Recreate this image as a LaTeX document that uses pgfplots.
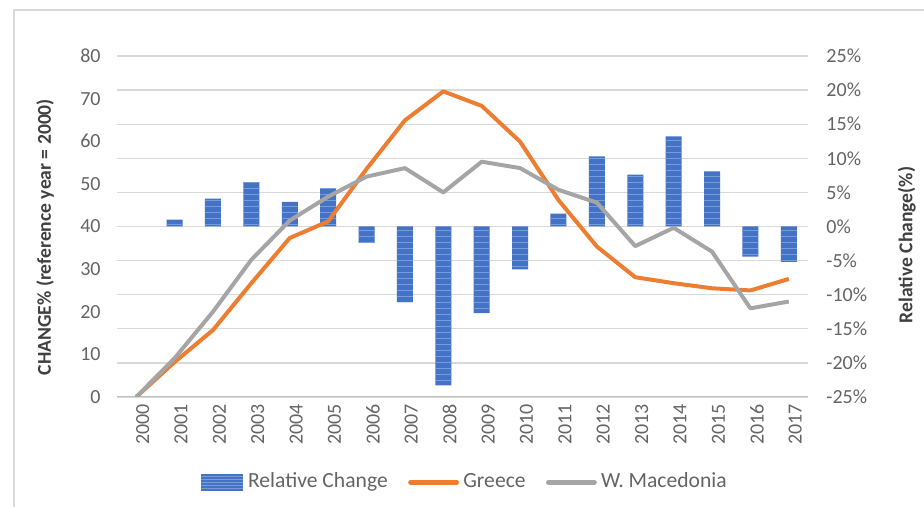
\documentclass[border=0pt]{standalone}
\usepackage{fontspec}
\setmainfont{Carlito}
\usepackage{pgfplots}
\pgfplotsset{compat=1.18}
\usetikzlibrary{patterns}
\definecolor{barblue}{RGB}{68,114,196}
\definecolor{barlight}{RGB}{120,155,220}
\definecolor{greece}{RGB}{237,125,49}
\definecolor{wmac}{RGB}{165,165,165}
\definecolor{gridgray}{RGB}{217,217,217}
\definecolor{basegray}{RGB}{191,191,191}
\definecolor{txtgray}{RGB}{100,100,100}
\definecolor{lblgray}{RGB}{64,64,64}

\pgfplotsset{
  common/.style={
    at={(58.5pt,55pt)}, anchor=south west,
    scale only axis, width=345.5pt, height=170.5pt,
    xmin=-0.5, xmax=17.5,
    axis line style={draw=none},
    major tick length=0pt,
    tick label style={font=\fontsize{10}{12}\selectfont, text=txtgray},
    label style={font=\bfseries\fontsize{9.8}{12}\selectfont, text=lblgray},
  }
}

\begin{document}
\begin{tikzpicture}[x=1pt,y=1pt]
\useasboundingbox (0,0) rectangle (462,253.5);
\draw[gridgray, line width=0.7pt] (7,0) -- (7,248.5) -- (462,248.5);

% bars, right axis
\begin{axis}[
  common,
  ymin=-25, ymax=25, ytick={-25,-20,...,25},
  yticklabel pos=right,
  yticklabel={\pgfmathparse{int(\tick)}\pgfmathresult\%},
  yticklabel style={anchor=west, xshift=5.7pt},
  ymajorgrids, grid style={draw=gridgray, line width=0.7pt},
  xtick=\empty,
  ylabel={Relative Change(\%)},
  ylabel style={at={(axis description cs:1.143,0.446)}, anchor=center},
]
\addplot[ybar, bar width=8pt, fill=barblue, draw=none,
  postaction={pattern=horizontal lines, pattern color=barlight}] coordinates {
  (1,1.0) (2,4.1) (3,6.5) (4,3.6) (5,5.6) (6,-2.4) (7,-11.1) (8,-23.3)
  (9,-12.7) (10,-6.3) (11,1.9) (12,10.3) (13,7.6) (14,13.2) (15,8.1)
  (16,-4.4) (17,-5.2)
};
\end{axis}

% lines, left axis
\begin{axis}[
  common,
  ymin=0, ymax=80, ytick={0,10,...,80},
  yticklabel pos=left,
  yticklabel={\pgfmathparse{int(\tick)}\pgfmathresult},
  yticklabel style={anchor=east, xshift=-4.7pt},
  xtick={0,...,17},
  xticklabel={\pgfmathparse{int(2000+\tick)}\pgfmathresult},
  xticklabel style={rotate=90, anchor=east, yshift=-3.2pt},
  ylabel={CHANGE\% (reference year = 2000)},
  ylabel style={at={(axis description cs:-0.104,0.469)}, anchor=center},
  legend columns=3,
  legend style={at={(axis description cs:0.505,-0.25)}, anchor=center,
    draw=none, fill=none, font=\fontsize{10.8}{13}\selectfont,
    nodes={inner sep=2.2pt, text=txtgray, text height=0.68em, text depth=0.2em},
    /tikz/every even column/.append style={column sep=8pt}},
]
\draw[basegray, line width=0.9pt] (axis cs:-0.5,0) -- (axis cs:17.5,0);
\addlegendimage{draw=none, legend image code/.code={
  \path[fill=barblue, draw=none] (0pt,-4.2pt) rectangle (21pt,4.2pt);
  \foreach \yy in {-3,-1.5,0,1.5,3} {\path[draw=barlight, line width=0.4pt] (0pt,\yy pt) -- (21pt,\yy pt);}}}
\addlegendentry{Relative Change}
\addplot[greece, line width=2pt, line join=round,
  legend image code/.code={\draw[greece, line width=2.4pt, line cap=round] (0pt,0pt) -- (23pt,0pt);}]
  coordinates {
  (0,0) (1,8.2) (2,15.7) (3,26.7) (4,37.3) (5,41.2) (6,53.5) (7,64.9)
  (8,71.7) (9,68.3) (10,59.9) (11,46.2) (12,35.3) (13,28.1) (14,26.7)
  (15,25.5) (16,25.0) (17,27.7)
};
\addlegendentry{Greece}
\addplot[wmac, line width=2pt, line join=round,
  legend image code/.code={\draw[wmac, line width=2.4pt, line cap=round] (0pt,0pt) -- (23pt,0pt);}]
  coordinates {
  (0,0) (1,9.1) (2,20.0) (3,32.2) (4,41.4) (5,47.0) (6,51.7) (7,53.7)
  (8,48.0) (9,55.2) (10,53.7) (11,48.6) (12,45.6) (13,35.4) (14,39.7)
  (15,34.1) (16,20.8) (17,22.4)
};
\addlegendentry{W. Macedonia}
\end{axis}
\end{tikzpicture}
\end{document}
